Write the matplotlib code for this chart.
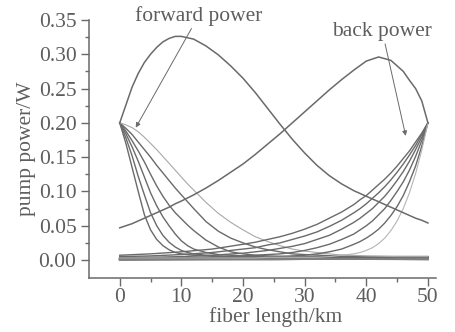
import numpy as np
import matplotlib.pyplot as plt

plt.rcParams['font.family'] = ['Liberation Serif', 'DejaVu Serif']

# main pump curves (fiber length in km, power in W)
km_main = [0, 1, 2, 3, 4, 5, 6, 7, 8, 9, 10, 12, 14, 16, 18, 20, 22, 24, 26, 28,
           30, 32, 34, 36, 38, 40, 42, 44, 46, 47, 48, 49, 50]
forward = [0.200, 0.226, 0.252, 0.272, 0.288, 0.300, 0.310, 0.318, 0.323, 0.326, 0.326,
           0.322, 0.312, 0.299, 0.283, 0.265, 0.244, 0.221, 0.198, 0.176,
           0.156, 0.138, 0.123, 0.111, 0.101, 0.093, 0.085, 0.077, 0.069, 0.065, 0.061, 0.058, 0.054]
back = [0.047, 0.050, 0.053, 0.057, 0.061, 0.065, 0.069, 0.073, 0.077, 0.082, 0.086,
        0.095, 0.105, 0.116, 0.128, 0.140, 0.154, 0.169, 0.184, 0.200,
        0.216, 0.232, 0.248, 0.263, 0.277, 0.290, 0.296, 0.291, 0.275, 0.262, 0.250, 0.232, 0.200]

# family of curves launched at 0 km
km_fwd = [0, 1, 2, 3, 4, 5, 6, 7, 8, 9, 10, 11, 12, 14, 16, 18, 20, 22, 24, 26, 28, 30, 35, 40, 45, 50]
fwd_family = [
    [.200, .170, .135, .100, .066, .044, .030, .021, .015, .011, .009, .008, .007, .006, .005, .005,
     .0045, .0045, .004, .004, .004, .004, .004, .004, .004, .004],
    [.200, .178, .152, .122, .095, .069, .050, .036, .026, .019, .014, .011, .009, .007, .006, .005,
     .005, .0045, .0045, .0045, .0045, .0045, .0045, .0045, .0045, .0045],
    [.200, .184, .165, .144, .121, .098, .079, .063, .050, .038, .028, .021, .016, .011, .008, .007,
     .006, .0055, .005, .005, .005, .005, .005, .005, .005, .005],
    [.200, .188, .174, .159, .143, .125, .108, .093, .080, .069, .060, .051, .043, .029, .019, .012,
     .009, .007, .006, .0055, .005, .005, .005, .005, .005, .005],
    [.200, .192, .183, .172, .161, .150, .138, .127, .116, .105, .095, .085, .075, .056, .042, .032,
     .025, .019, .015, .012, .009, .008, .006, .005, .005, .005],
]
fwd_light = [.200, .197, .193, .187, .179, .170, .161, .151, .141, .131, .121, .111, .102, .084, .068,
             .055, .044, .034, .027, .021, .016, .013, .008, .006, .005, .005]

# family of curves launched at 50 km
km_bwd = [50, 49, 48, 47, 46, 45, 44, 43, 42, 41, 40, 39, 38, 36, 34, 32, 30, 28, 26, 24, 22, 20, 15, 10, 5, 0]
bwd_family = [
    [.200, .185, .172, .159, .148, .137, .127, .118, .110, .102, .094, .088, .081, .070, .061, .052,
     .045, .039, .034, .030, .026, .023, .016, .012, .009, .007],
    [.200, .183, .167, .153, .140, .128, .117, .107, .098, .090, .082, .075, .069, .058, .049, .041,
     .035, .030, .025, .022, .018, .016, .011, .008, .006, .005],
    [.200, .179, .161, .144, .129, .116, .104, .093, .084, .075, .068, .061, .055, .045, .036, .030,
     .024, .020, .017, .014, .012, .010, .007, .005, .004, .004],
    [.200, .174, .151, .131, .114, .100, .087, .075, .066, .057, .050, .044, .038, .030, .023, .018,
     .014, .011, .009, .008, .007, .006, .004, .004, .003, .003],
    [.200, .166, .137, .114, .094, .078, .065, .054, .045, .038, .032, .027, .023, .016, .012, .009,
     .007, .006, .005, .004, .004, .004, .003, .003, .003, .003],
]
bwd_light = [.200, .160, .126, .098, .075, .057, .043, .032, .024, .018, .014, .011, .009, .007, .005,
             .004, .004, .004, .004, .004, .003, .003, .003, .003, .003, .003]

# weak lines close to zero
km_low = [0, 25, 50]
low_lines = [
    [.001, .002, .004],
    [.002, .003, .002],
    [.003, .002, .001],
    [.000, .001, .003],
    [.001, .003, .001],
    [.002, .001, .003],
]

grey = '#6a6a6a'
txt = '#5e5e5e'
fs = 15.5

fig = plt.figure(figsize=(4.56, 3.32), dpi=100)
ax = fig.add_axes([0.195, 0.163, 0.761, 0.777])

for ys in low_lines:
    ax.plot(km_low, ys, color='#808080', lw=1.3)
for ys in fwd_family:
    ax.plot(km_fwd, ys, color=grey, lw=1.0)
ax.plot(km_fwd, fwd_light, color='#a8a8a8', lw=0.8)
for ys in bwd_family:
    ax.plot(km_bwd, ys, color=grey, lw=1.0)
ax.plot(km_bwd, bwd_light, color='#b5b5b5', lw=0.8)
ax.plot(km_main, forward, color=grey, lw=1.1)
ax.plot(km_main, back, color=grey, lw=1.1)

arrow = dict(arrowstyle='-|>', color=grey, lw=0.7, mutation_scale=7, shrinkA=0, shrinkB=0)
ax.annotate('forward power', xy=(2.6, 0.193), xytext=(12.8, 0.356), ha='center', va='center',
            fontsize=fs, color=txt, arrowprops=arrow, annotation_clip=False)
ax.annotate('back power', xy=(46.4, 0.181), xytext=(42.6, 0.333), ha='center', va='center',
            fontsize=fs, color=txt, arrowprops=arrow, annotation_clip=False)

ax.set_xlim(-5.0, 51.3)
ax.set_ylim(-0.026, 0.35)
ax.set_xticks([0, 10, 20, 30, 40, 50])
ax.set_xticks([5, 15, 25, 35, 45], minor=True)
ax.set_yticks(np.arange(0, 0.351, 0.05))
ax.set_yticks(np.arange(0.025, 0.35, 0.05), minor=True)
ax.set_yticklabels(['0.00', '0.05', '0.10', '0.15', '0.20', '0.25', '0.30', '0.35'])

for side in ['top', 'right']:
    ax.spines[side].set_visible(False)
for side in ['left', 'bottom']:
    ax.spines[side].set_color(grey)
    ax.spines[side].set_linewidth(1.1)

ax.tick_params(which='major', direction='out', length=6, width=1.0, color=grey,
               labelsize=fs, labelcolor=txt)
ax.tick_params(axis='x', which='major', pad=1)
ax.tick_params(axis='y', which='major', pad=3)
ax.tick_params(which='minor', direction='out', length=3, width=1.0, color=grey)

ax.set_xlabel('fiber length/km', fontsize=fs, color=txt)
ax.xaxis.set_label_coords(0.538, -0.112)
ax.set_ylabel('pump power/W', fontsize=fs, color=txt, labelpad=2)

fig.savefig('out.png', dpi=100)
